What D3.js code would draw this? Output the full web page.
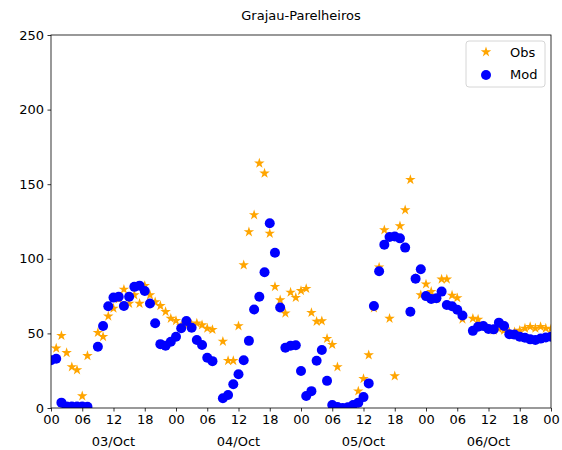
<!DOCTYPE html>
<html><head><meta charset="utf-8">
<script src="https://cdn.jsdelivr.net/npm/d3@7"></script>
<style>body{margin:0;background:#fff;} svg{display:block;font-family:"DejaVu Sans",sans-serif;}</style>
</head><body><svg id="c" width="562" height="450"></svg>
<script>
const title = "Grajau-Parelheiros";
// hours from 03/Oct 00:00
const hours = d3.range(0, 97);
const obs = [null,40,48.5,37,27.5,25.5,8,35,null,50.5,47.8,61.5,66.8,73,79.5,70,75.7,70,82,75.7,71,68.5,64.5,60,58.5,
  55,55.6,56,56.8,55.6,53.4,52.5,null,44.6,31.7,31.7,55,95.8,118,129.4,164,157.3,117,81.3,72.4,63.5,77.5,74,78.6,80,
  63.9,58,58.3,46.5,42.5,27.5,null,null,null,11.3,19.6,35.5,67,94.4,119.3,60,21.4,122,132.7,153,87,75.7,83,78,73,86.3,86.3,75.5,73.8,59.5,
  null,60,59.4,55,53,52,53,52,51,51,52,53.4,54.5,53.4,54.5,53.4,53];
const mod = [32,33,3.6,1,1,1,1,0.8,null,41,55,68.2,74,74.6,68.4,74.6,81.2,82,78.4,70,56.8,42.8,41.7,44.4,47.8,
  53.4,58.3,53.8,45.6,42.2,33.7,31.4,null,6.5,8.7,15.9,22.6,32,45,66,74.6,91,123.8,104,67.3,40.4,41.8,42,24.8,8,
  11.3,31.7,38.9,18.2,2,0.7,0,0.5,2,3.6,7.3,16.5,68.4,91.6,109.5,114.6,115,113.7,107.5,64.5,86.6,93,75,73,73.5,78,69,68.2,65.8,62,
  null,51.7,54.5,55,53,52.7,57.2,55,49.5,49.2,47.8,47.1,46,45.6,46.5,47.2,47.8];
const yTicks = [0,50,100,150,200,250];
const xTicks = d3.range(0, 97, 6);
const dayLabels = ["03/Oct","04/Oct","05/Oct","06/Oct"];
const dayLabelHours = [12,36,60,84];
const legendNames = ["Obs","Mod"];

const svg = d3.select("#c");
const L=51, R=551, T=35, B=408;
const x = d3.scaleLinear().domain([0,96]).range([L,R]);
const y = d3.scaleLinear().domain([0,250]).range([B,T]);

svg.append("text").attr("x",(L+R)/2).attr("y",20).attr("text-anchor","middle")
  .attr("font-size",13).text(title);

const clip = svg.append("clipPath").attr("id","pc").append("rect")
  .attr("x",L).attr("y",T).attr("width",R-L).attr("height",B-T);
const plot = svg.append("g").attr("clip-path","url(#pc)");

const star = d3.symbol().type(d3.symbolStar).size(34);
const pts = hours.map((h,i)=>({h, o:obs[i], m:mod[i]}));
plot.selectAll(".o").data(pts.filter(d=>d.o!=null)).enter().append("path")
  .attr("d",star).attr("transform",d=>`translate(${x(d.h)},${y(d.o)})`).attr("fill","#FFA500");
plot.selectAll(".m").data(pts.filter(d=>d.m!=null)).enter().append("circle")
  .attr("cx",d=>x(d.h)).attr("cy",d=>y(d.m)).attr("r",5).attr("fill","#0000FF");

const ya = svg.append("g").attr("transform",`translate(${L},0)`)
  .call(d3.axisLeft(y).tickValues(yTicks).tickSize(3.5).tickPadding(3.5));
const xa = svg.append("g").attr("transform",`translate(0,${B})`)
  .call(d3.axisBottom(x).tickValues(xTicks).tickSize(3.5).tickPadding(3.5)
    .tickFormat(h=>String(h%24).padStart(2,"0")));
[ya,xa].forEach(g=>{g.select(".domain").remove();
  g.selectAll("text").attr("font-size",13).attr("fill","#000").attr("font-family","DejaVu Sans");
  g.selectAll("line").attr("stroke","#000").attr("stroke-width",0.8);});

svg.selectAll(".day").data(dayLabels).enter().append("text")
  .attr("x",(d,i)=>x(dayLabelHours[i])).attr("y",446).attr("text-anchor","middle")
  .attr("font-size",13).text(d=>d);

svg.append("rect").attr("x",L).attr("y",T).attr("width",R-L).attr("height",B-T)
  .attr("fill","none").attr("stroke","#000").attr("stroke-width",0.8);

// legend
const lg = svg.append("g");
lg.append("rect").attr("x",466).attr("y",41).attr("width",79).attr("height",46).attr("rx",3)
  .attr("fill","#fff").attr("fill-opacity",0.8).attr("stroke","#ccc").attr("stroke-width",0.8);
lg.append("path").attr("d",star).attr("transform","translate(486,52)").attr("fill","#FFA500");
lg.append("circle").attr("cx",486).attr("cy",75).attr("r",5).attr("fill","#0000FF");
lg.selectAll(".lt").data(legendNames).enter().append("text")
  .attr("x",510).attr("y",(d,i)=>57+i*22).attr("font-size",13).text(d=>d);
</script></body></html>
